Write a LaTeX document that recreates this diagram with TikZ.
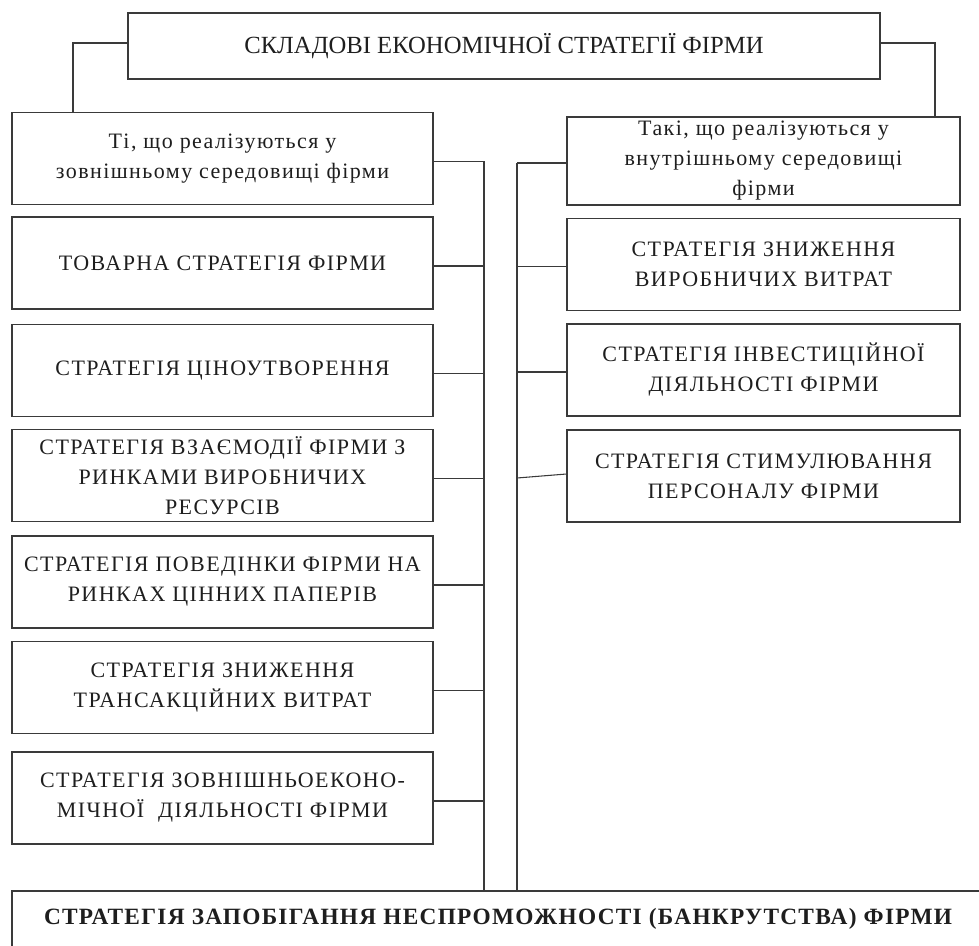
\documentclass[tikz,border=0pt]{standalone}
\usepackage{fontspec}
\usepackage{xcolor}
\setmainfont{Liberation Serif}
\newfontfamily\wideserif[LetterSpace=6.5]{Liberation Serif}
\newfontfamily\widebold[LetterSpace=5.5]{Liberation Serif Bold}
\usetikzlibrary{calc}
\definecolor{linegray}{HTML}{3A3A3A}
\definecolor{inkblack}{HTML}{1E1E1E}

\tikzset{
  frame/.style={draw=linegray, line width=0.8pt, rectangle, inner sep=0pt,
                align=center, text=inkblack},
  leftbox/.style={frame, minimum width=315.75pt, minimum height=69pt,
                  font=\wideserif\fontsize{16.5}{22.5}\selectfont},
  rightbox/.style={frame, minimum width=294.75pt, minimum height=69pt,
                   font=\wideserif\fontsize{16.5}{22.5}\selectfont},
  link/.style={draw=linegray, line width=0.8pt}
}

\begin{document}
\begin{tikzpicture}[x=0.75pt, y=-0.75pt]
  \useasboundingbox (0,0) rectangle (979,946);

  % header
  \node[frame, minimum width=564pt, minimum height=49.5pt,
        font=\fontsize{18.5}{22}\selectfont] (head) at (504,46)
        {СКЛАДОВІ ЕКОНОМІЧНОЇ СТРАТЕГІЇ ФІРМИ};

  % outer environment column
  \node[leftbox] (ext)  at (222.5,158.5) {Ті, що реалізуються у\\зовнішньому середовищі фірми};
  \node[leftbox] (goods) at (222.5,263)  {ТОВАРНА СТРАТЕГІЯ ФІРМИ};
  \node[leftbox] (price) at (222.5,370.5) {СТРАТЕГІЯ ЦІНОУТВОРЕННЯ};
  \node[leftbox] (res)  at (222.5,475.5) {СТРАТЕГІЯ ВЗАЄМОДІЇ ФІРМИ З\\РИНКАМИ ВИРОБНИЧИХ\\РЕСУРСІВ};
  \node[leftbox] (sec)  at (222.5,582)   {СТРАТЕГІЯ ПОВЕДІНКИ ФІРМИ НА\\РИНКАХ ЦІННИХ ПАПЕРІВ};
  \node[leftbox] (trans) at (222.5,687.5) {СТРАТЕГІЯ ЗНИЖЕННЯ\\ТРАНСАКЦІЙНИХ ВИТРАТ};
  \node[leftbox] (fea)  at (222.5,798)   {СТРАТЕГІЯ ЗОВНІШНЬОЕКОНО-\\МІЧНОЇ \ ДІЯЛЬНОСТІ ФІРМИ};

  % inner environment column
  \node[rightbox, minimum height=66pt] (int) at (763.5,161)
        {Такі, що реалізуються у\\внутрішньому середовищі\\фірми};
  \node[rightbox] (cost) at (763.5,264.5) {СТРАТЕГІЯ ЗНИЖЕННЯ\\ВИРОБНИЧИХ ВИТРАТ};
  \node[rightbox] (inv)  at (763.5,370)   {СТРАТЕГІЯ ІНВЕСТИЦІЙНОЇ\\ДІЯЛЬНОСТІ ФІРМИ};
  \node[rightbox] (staff) at (763.5,476)  {СТРАТЕГІЯ СТИМУЛЮВАННЯ\\ПЕРСОНАЛУ ФІРМИ};

  % bankruptcy box runs off the page edge, text sits high in it
  \node[frame, minimum width=729pt, minimum height=52.5pt, text depth=15pt,
        font=\widebold\fontsize{17.5}{20}\selectfont] (bank) at (498,926)
        {СТРАТЕГІЯ ЗАПОБІГАННЯ НЕСПРОМОЖНОСТІ (БАНКРУТСТВА) ФІРМИ};

  % bus lines
  \coordinate (ltop) at (484,161);
  \coordinate (rtop) at (517,163);
  \path[link] ($(head.west)+(0,-3)$) -| (ext.north -| 73,0);
  \path[link] ($(head.east)+(0,-3)$) -| (int.north -| 935,0);
  \path[link] (ltop) -- (ltop |- bank.north);
  \path[link] (rtop) -- (rtop |- bank.north);

  % branches to the left bus
  \foreach \b in {ext,goods,price,res,sec,trans,fea}
    \path[link] ($(\b.east)+(0,3)$) -- ($(\b.east -| ltop)+(0,3)$);

  % branches to the right bus
  \foreach \b in {int,cost,inv}
    \path[link] ($(\b.west)+(0,2)$) -- ($(\b.west -| rtop)+(0,2)$);
  \path[link] ($(staff.west)+(0,-2)$) -- ($(staff.west -| rtop)+(0,2)$);
\end{tikzpicture}
\end{document}
